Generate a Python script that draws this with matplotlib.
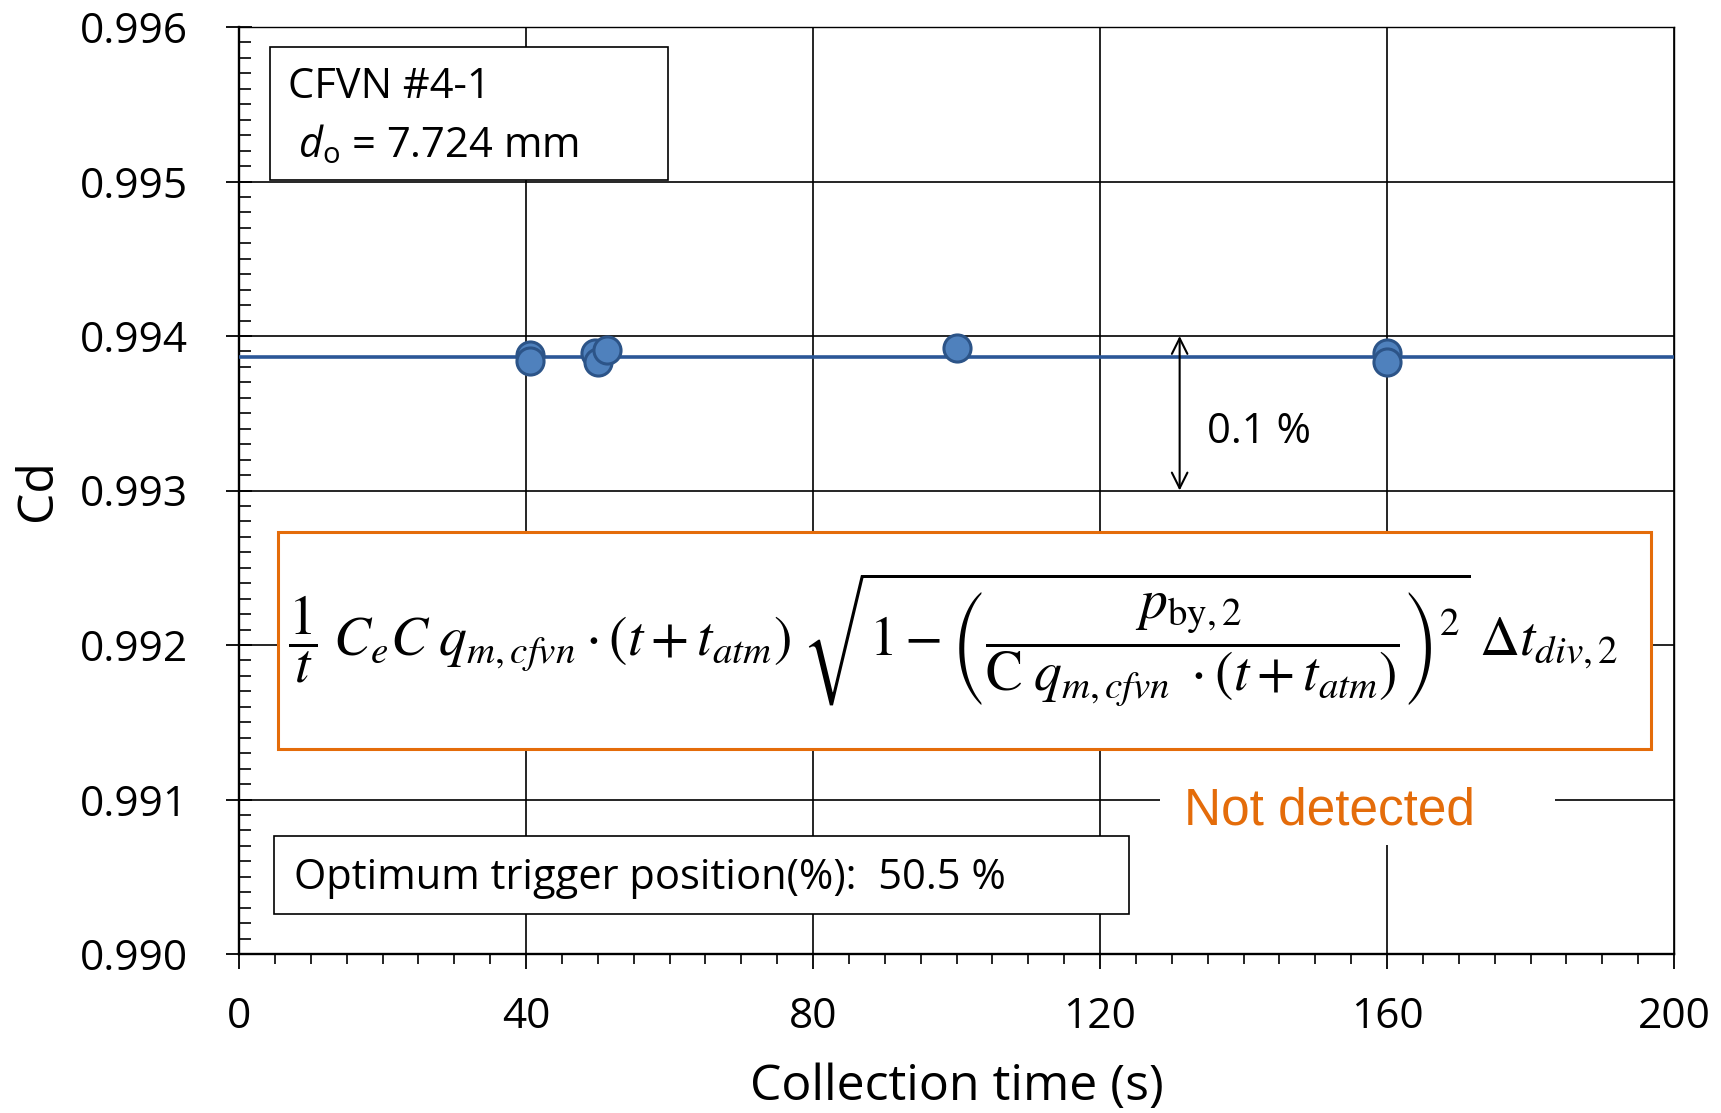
import matplotlib
matplotlib.use("Agg")
import matplotlib.pyplot as plt
from matplotlib.patches import Rectangle
from matplotlib.ticker import MultipleLocator, FixedLocator

# ---- data ----
collection_time = [40.5, 40.6, 49.6, 50.1, 51.3, 100.1, 160.0, 160.0]
cd_values = [0.99388, 0.99384, 0.99389, 0.99383, 0.99391, 0.99392, 0.99389, 0.99383]
mean_cd = 0.993865
x_ticks = [0, 40, 80, 120, 160, 200]
y_ticks = [0.990, 0.991, 0.992, 0.993, 0.994, 0.995, 0.996]
x_tick_labels = ["0", "40", "80", "120", "160", "200"]
y_tick_labels = ["0.990", "0.991", "0.992", "0.993", "0.994", "0.995", "0.996"]

FONT = "Open Sans"
plt.rcParams['font.family'] = [FONT, 'DejaVu Sans']
plt.rcParams['mathtext.fontset'] = 'custom'
plt.rcParams['mathtext.rm'] = 'Open Sans'
plt.rcParams['mathtext.it'] = 'Open Sans:italic'

ORANGE = '#E46C0A'
BLUE_FILL = '#4F81BD'
BLUE_EDGE = '#2C5488'
LINE_BLUE = '#2B5797'

fig = plt.figure(figsize=(17.21, 11.13), dpi=100)
ax = fig.add_axes([239/1721, 1-954/1113, 1435/1721, 927/1113])

ax.set_xlim(0, 200)
ax.set_ylim(0.990, 0.996)

ax.xaxis.set_major_locator(FixedLocator(x_ticks))
ax.set_xticklabels(x_tick_labels)
ax.yaxis.set_major_locator(FixedLocator(y_ticks))
ax.set_yticklabels(y_tick_labels)
ax.xaxis.set_minor_locator(MultipleLocator(5))
ax.yaxis.set_minor_locator(MultipleLocator(0.0001))

ax.grid(True, which='major', color='black', linewidth=1.2, zorder=0)
ax.set_axisbelow(True)

for s in ['left', 'bottom']:
    ax.spines[s].set_linewidth(1.7)
for s in ['top', 'right']:
    ax.spines[s].set_linewidth(1.0)

ax.tick_params(axis='y', which='major', direction='inout', length=19, width=1.3,
               pad=27, labelsize=30.5)
ax.tick_params(axis='y', which='minor', direction='in', length=8.6, width=1.2)
ax.tick_params(axis='x', which='major', direction='out', length=11, width=1.3,
               pad=19, labelsize=30.5)
ax.tick_params(axis='x', which='minor', direction='out', length=7.5, width=1.2)

# mean line and data
ax.axhline(mean_cd, color=LINE_BLUE, linewidth=2.6, zorder=3)
ax.plot(collection_time, cd_values, linestyle='none', marker='o', markersize=19.5,
        markerfacecolor=BLUE_FILL, markeredgecolor=BLUE_EDGE, markeredgewidth=2.2,
        zorder=4)

ax.set_xlabel("Collection time (s)", fontsize=36, va='center')
ax.xaxis.set_label_coords(0.5, (954-1087)/927)
ax.set_ylabel("Cd", fontsize=36, va='center', ha='center')
ax.yaxis.set_label_coords((38-239)/1435, 0.5)

T = ax.transAxes
# CFVN box
ax.add_patch(Rectangle((0.0216, 0.8350), 0.2774, 0.1434, transform=T,
                       facecolor='white', edgecolor='black', linewidth=1.2, zorder=5))
ax.text(0.0341, 0.9231, "CFVN #4-1", transform=T, fontsize=30, va='baseline',
        ha='left', zorder=6)
ax.text(0.0411, 0.8594, r"$d_{\mathrm{o}}$ = 7.724 mm", transform=T, fontsize=30,
        va='baseline', ha='left', zorder=6, math_fontfamily='custom')

# 0.1 % arrow
ax.annotate("", xy=(131.1, 0.993), xytext=(131.1, 0.994),
            arrowprops=dict(arrowstyle='<->', color='black', lw=1.5,
                            mutation_scale=28, shrinkA=0, shrinkB=0), zorder=5)
ax.text(0.6746, 0.5509, "0.1 %", transform=T, fontsize=30, va='baseline',
        ha='left', zorder=6)

# Not detected background (below the formula box frame)
ax.add_patch(Rectangle((0.6418, 0.1176), 0.2753, 0.1025, transform=T,
                       facecolor='white', edgecolor='none', zorder=4.8))

# formula box
ax.add_patch(Rectangle((0.0272, 0.2211), 0.9568, 0.2341, transform=T,
                       facecolor='white', edgecolor=ORANGE, linewidth=2.2, zorder=5))
formula = (r"$\dfrac{1}{t}\;C_eC\;q_{m,cfvn}\cdot(t+t_{atm})\;"
           r"\sqrt{1-\left(\dfrac{p_{\mathrm{by},2}}{\mathrm{C}\;q_{m,cfvn}\;\cdot(t+t_{atm})}\right)^2}"
           r"\;\Delta t_{div,2}$")
ax.text(0.0341, 0.340, formula, transform=T, fontsize=40, va='center', ha='left',
        zorder=6, math_fontfamily='stix')

ax.text(0.760, 0.1392, "Not detected", transform=T, fontsize=37, color=ORANGE,
        va='baseline', ha='center', zorder=6, family=['Liberation Sans'])

# optimum box
ax.add_patch(Rectangle((0.0244, 0.0431), 0.5958, 0.0842, transform=T,
                       facecolor='white', edgecolor='black', linewidth=1.2, zorder=5))
ax.text(0.0383, 0.0701, "Optimum trigger position(%):  50.5 %", transform=T,
        fontsize=30, va='baseline', ha='left', zorder=6)

fig.savefig("out.png", dpi=100)
